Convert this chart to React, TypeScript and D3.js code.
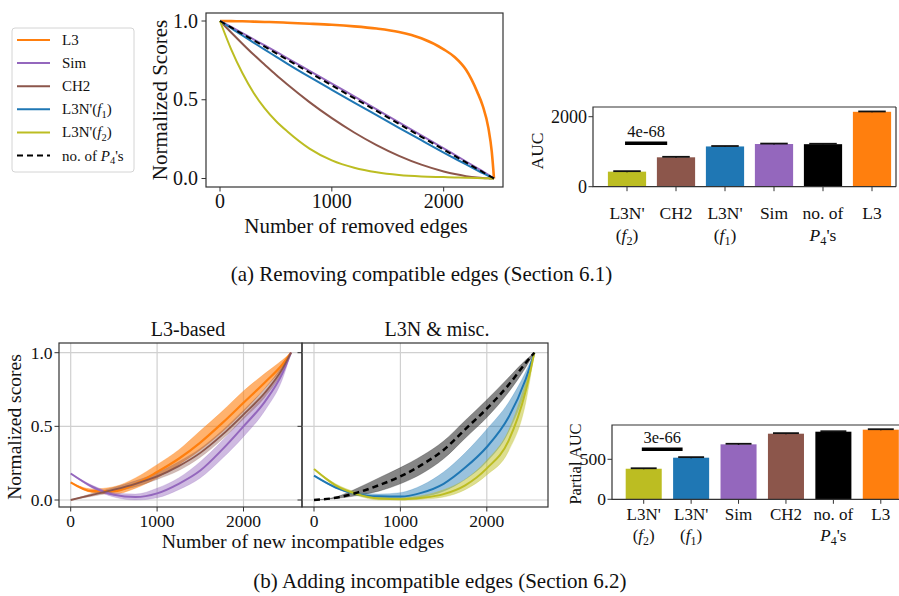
import { useEffect, useRef } from "react";
import * as d3 from "d3";

// ---------- (a) removing compatible edges ----------
const removedEdges = [0, 100, 200, 300, 400, 500, 600, 800, 1000, 1200, 1400, 1600, 1800, 2000, 2100, 2200, 2300, 2350, 2400, 2430, 2450];
const removeL3 = [1.0, 0.999, 0.998, 0.996, 0.994, 0.992, 0.989, 0.983, 0.976, 0.966, 0.952, 0.93, 0.89, 0.82, 0.77, 0.69, 0.55, 0.46, 0.32, 0.17, 0.0];
const removeSim = [1.0, 0.962, 0.923, 0.884, 0.845, 0.805, 0.765, 0.684, 0.603, 0.521, 0.439, 0.357, 0.274, 0.192, 0.15, 0.108, 0.066, 0.045, 0.023, 0.009, 0.0];
const removeCH2 = [1.0, 0.927, 0.856, 0.787, 0.722, 0.658, 0.598, 0.485, 0.383, 0.292, 0.212, 0.144, 0.088, 0.045, 0.028, 0.015, 0.006, 0.003, 0.001, 0.0, 0.0];
const removeL3Nf1 = [1.0, 0.954, 0.908, 0.863, 0.818, 0.774, 0.73, 0.645, 0.563, 0.482, 0.402, 0.322, 0.243, 0.165, 0.127, 0.089, 0.052, 0.034, 0.017, 0.007, 0.0];
const removeL3Nf2 = [1.0, 0.82, 0.67, 0.545, 0.445, 0.365, 0.3, 0.19, 0.115, 0.068, 0.039, 0.022, 0.013, 0.009, 0.007, 0.005, 0.003, 0.002, 0.001, 0.0, 0.0];
const removeP4 = [1.0, 0.959, 0.918, 0.878, 0.837, 0.796, 0.755, 0.673, 0.592, 0.51, 0.429, 0.347, 0.265, 0.184, 0.143, 0.102, 0.061, 0.041, 0.02, 0.008, 0.0];

const aucCategories = ["L3N'(f2)", "CH2", "L3N'(f1)", "Sim", "P4", "L3"];
const aucValues = [430, 840, 1150, 1220, 1215, 2140];
const aucErrors = [14, 14, 12, 12, 12, 10];

// ---------- (b) adding incompatible edges ----------
const newEdges = [0, 250, 500, 750, 1000, 1250, 1500, 1750, 2000, 2250, 2450, 2550];
const addL3 = [0.12, 0.06, 0.06, 0.11, 0.19, 0.28, 0.39, 0.52, 0.66, 0.8, 0.92, 1.0];
const addL3Hi = [0.12, 0.075, 0.09, 0.15, 0.24, 0.34, 0.47, 0.6, 0.74, 0.86, 0.95, 1.0];
const addL3Lo = [0.12, 0.05, 0.04, 0.08, 0.15, 0.24, 0.34, 0.46, 0.6, 0.76, 0.9, 1.0];
const addSim = [0.18, 0.09, 0.035, 0.02, 0.045, 0.11, 0.2, 0.34, 0.5, 0.67, 0.86, 1.0];
const addSimHi = [0.18, 0.1, 0.05, 0.04, 0.08, 0.15, 0.26, 0.4, 0.56, 0.72, 0.89, 1.0];
const addSimLo = [0.18, 0.08, 0.02, 0.0, 0.015, 0.07, 0.15, 0.28, 0.43, 0.61, 0.82, 1.0];
const addCH2 = [0.0, 0.035, 0.07, 0.11, 0.16, 0.23, 0.32, 0.44, 0.58, 0.73, 0.89, 1.0];
const addCH2Hi = [0.0, 0.045, 0.085, 0.13, 0.185, 0.26, 0.35, 0.47, 0.61, 0.76, 0.91, 1.0];
const addCH2Lo = [0.0, 0.025, 0.055, 0.09, 0.14, 0.2, 0.29, 0.41, 0.55, 0.7, 0.87, 1.0];
const addP4 = [0.0, 0.015, 0.05, 0.1, 0.16, 0.24, 0.34, 0.48, 0.62, 0.78, 0.93, 1.0];
const addP4Hi = [0.0, 0.02, 0.08, 0.15, 0.22, 0.3, 0.4, 0.54, 0.68, 0.83, 0.95, 1.0];
const addP4Lo = [0.0, 0.01, 0.03, 0.06, 0.11, 0.18, 0.28, 0.42, 0.56, 0.73, 0.9, 1.0];
const addL3Nf1 = [0.165, 0.085, 0.04, 0.025, 0.023, 0.05, 0.11, 0.22, 0.36, 0.56, 0.82, 1.0];
const addL3Nf1Hi = [0.165, 0.09, 0.05, 0.04, 0.05, 0.1, 0.19, 0.32, 0.48, 0.66, 0.87, 1.0];
const addL3Nf1Lo = [0.165, 0.08, 0.03, 0.01, 0.005, 0.02, 0.06, 0.14, 0.26, 0.46, 0.76, 1.0];
const addL3Nf2 = [0.21, 0.1, 0.04, 0.01, 0.005, 0.015, 0.04, 0.1, 0.215, 0.4, 0.74, 1.0];
const addL3Nf2Hi = [0.21, 0.11, 0.05, 0.02, 0.015, 0.03, 0.07, 0.14, 0.27, 0.47, 0.8, 1.0];
const addL3Nf2Lo = [0.21, 0.09, 0.03, 0.0, 0.0, 0.005, 0.02, 0.07, 0.17, 0.33, 0.66, 1.0];

const partialCategories = ["L3N'(f2)", "L3N'(f1)", "Sim", "CH2", "P4", "L3"];
const partialValues = [382, 520, 687, 820, 845, 870];
const partialErrors = [6, 7, 7, 7, 6, 6];

const COLOR: Record<string, string> = {
  L3: "#ff7f0e",
  Sim: "#9467bd",
  CH2: "#8c564b",
  "L3N'(f1)": "#1f77b4",
  "L3N'(f2)": "#bcbd22",
  P4: "#000000",
};

type Part = { t: string; i?: boolean; s?: boolean };
const legendParts: Record<string, Part[]> = {
  L3: [{ t: "L3" }],
  Sim: [{ t: "Sim" }],
  CH2: [{ t: "CH2" }],
  "L3N'(f1)": [{ t: "L3N'(" }, { t: "f", i: true }, { t: "1", s: true }, { t: ")" }],
  "L3N'(f2)": [{ t: "L3N'(" }, { t: "f", i: true }, { t: "2", s: true }, { t: ")" }],
  P4: [{ t: "no. of " }, { t: "P", i: true }, { t: "4", s: true }, { t: "'s" }],
};
const tickParts: Record<string, Part[][]> = {
  L3: [[{ t: "L3" }]],
  Sim: [[{ t: "Sim" }]],
  CH2: [[{ t: "CH2" }]],
  "L3N'(f1)": [[{ t: "L3N'" }], [{ t: "(" }, { t: "f", i: true }, { t: "1", s: true }, { t: ")" }]],
  "L3N'(f2)": [[{ t: "L3N'" }], [{ t: "(" }, { t: "f", i: true }, { t: "2", s: true }, { t: ")" }]],
  P4: [[{ t: "no. of" }], [{ t: "P", i: true }, { t: "4", s: true }, { t: "'s" }]],
};

const FONT = "'Liberation Serif', 'Times New Roman', serif";
const SPINE = "#333";

function rich(text: any, parts: Part[], size: number) {
  let down = false;
  parts.forEach((p) => {
    const ts = text.append("tspan").text(p.t);
    if (p.i) ts.attr("font-style", "italic");
    if (p.s) {
      ts.attr("font-size", size * 0.7).attr("dy", size * 0.25);
      down = true;
    } else if (down) {
      ts.attr("dy", -size * 0.25);
      down = false;
    }
  });
}

function drawRemoval(svg: any) {
  const x = d3.scaleLinear().domain([0, 2450]).range([220, 494]);
  const y = d3.scaleLinear().domain([0, 1]).range([178.5, 21]);
  const g = svg.append("g");
  const idx = d3.range(removedEdges.length);

  const series = [
    { key: "L3", v: removeL3, w: 2.6 },
    { key: "Sim", v: removeSim, w: 2 },
    { key: "CH2", v: removeCH2, w: 2 },
    { key: "L3N'(f1)", v: removeL3Nf1, w: 2 },
    { key: "L3N'(f2)", v: removeL3Nf2, w: 2 },
    { key: "P4", v: removeP4, w: 2, dash: "6,4" },
  ];
  series.forEach((s) => {
    const line = d3
      .line<number>()
      .x((i) => x(removedEdges[i]))
      .y((i) => y(s.v[i]))
      .curve(d3.curveMonotoneX);
    g.append("path")
      .attr("d", line(idx))
      .attr("fill", "none")
      .attr("stroke", COLOR[s.key])
      .attr("stroke-width", s.w)
      .attr("stroke-dasharray", s.dash ?? null);
  });

  g.append("rect").attr("x", 206).attr("y", 13).attr("width", 297).attr("height", 174)
    .attr("fill", "none").attr("stroke", SPINE).attr("stroke-width", 1.2);

  [0, 1000, 2000].forEach((t) => {
    g.append("line").attr("x1", x(t)).attr("x2", x(t)).attr("y1", 187).attr("y2", 191.5).attr("stroke", SPINE);
    g.append("text").attr("x", x(t)).attr("y", 208).attr("text-anchor", "middle")
      .attr("font-size", 20).text(t);
  });
  [0, 0.5, 1].forEach((t) => {
    g.append("line").attr("x1", 201.5).attr("x2", 206).attr("y1", y(t)).attr("y2", y(t)).attr("stroke", SPINE);
    g.append("text").attr("x", 198).attr("y", y(t) + 6.5).attr("text-anchor", "end")
      .attr("font-size", 20).text(t.toFixed(1));
  });
  g.append("text").attr("x", 356).attr("y", 233).attr("text-anchor", "middle")
    .attr("font-size", 21).text("Number of removed edges");
  g.append("text").attr("transform", "translate(167,100) rotate(-90)").attr("text-anchor", "middle")
    .attr("font-size", 21).text("Normalized Scores");

  // legend
  const lg = svg.append("g");
  lg.append("rect").attr("x", 12).attr("y", 28).attr("width", 122).attr("height", 144).attr("rx", 3)
    .attr("fill", "#fff").attr("stroke", "#d4d4d4");
  series.forEach((s, i) => {
    const cy = 40 + i * 23.1;
    lg.append("line").attr("x1", 17).attr("x2", 50).attr("y1", cy).attr("y2", cy)
      .attr("stroke", COLOR[s.key]).attr("stroke-width", 2).attr("stroke-dasharray", s.dash ?? null);
    const t = lg.append("text").attr("x", 62).attr("y", cy + 5).attr("font-size", 15);
    rich(t, legendParts[s.key], 15);
  });
}

function drawBars(
  svg: any,
  cats: string[],
  vals: number[],
  errs: number[],
  o: {
    left: number; right: number; top: number; zeroY: number; tickVal: number; tickY: number;
    rangeL: number; rangeR: number; pIn: number; pOut: number; fs: number; label: string;
    labelX: number; labelY: number; labelFs: number; line1: number; line2: number; sig: string; sigY: number;
    ticks: number[];
  }
) {
  const g = svg.append("g");
  const x = d3.scaleBand<string>().domain(cats).range([o.rangeL, o.rangeR]).paddingInner(o.pIn).paddingOuter(o.pOut);
  const y = d3.scaleLinear().domain([0, o.tickVal]).range([o.zeroY, o.tickY]);
  const bw = x.bandwidth();

  g.selectAll("rect.bar").data(cats).join("rect").attr("class", "bar")
    .attr("x", (c: string) => x(c) ?? 0)
    .attr("y", (_: string, i: number) => y(vals[i]))
    .attr("width", bw)
    .attr("height", (_: string, i: number) => o.zeroY - y(vals[i]))
    .attr("fill", (c: string) => COLOR[c]);

  cats.forEach((c, i) => {
    const cx = (x(c) ?? 0) + bw / 2;
    g.append("line").attr("x1", cx).attr("x2", cx).attr("y1", y(vals[i] - errs[i])).attr("y2", y(vals[i] + errs[i]))
      .attr("stroke", "#111").attr("stroke-width", 1.5);
    g.append("line").attr("x1", cx - bw * 0.36).attr("x2", cx + bw * 0.36)
      .attr("y1", y(vals[i] + errs[i])).attr("y2", y(vals[i] + errs[i]))
      .attr("stroke", "#111").attr("stroke-width", 1.8);
    tickParts[c].forEach((line, li) => {
      const t = g.append("text").attr("x", cx).attr("y", li === 0 ? o.line1 : o.line2)
        .attr("text-anchor", "middle").attr("font-size", o.fs);
      rich(t, line, o.fs);
    });
  });

  g.append("path")
    .attr("d", `M${o.right},${o.top}H${o.left}V${o.zeroY}H${o.right}`)
    .attr("fill", "none").attr("stroke", SPINE).attr("stroke-width", 1.2);
  if (o.right < 899) {
    g.append("line").attr("x1", o.right).attr("x2", o.right).attr("y1", o.top).attr("y2", o.zeroY)
      .attr("stroke", SPINE).attr("stroke-width", 1.2);
  }

  o.ticks.forEach((t) => {
    g.append("line").attr("x1", o.left - 4.5).attr("x2", o.left).attr("y1", y(t)).attr("y2", y(t)).attr("stroke", SPINE);
    g.append("text").attr("x", o.left - 6).attr("y", y(t) + 6).attr("text-anchor", "end")
      .attr("font-size", o.fs + 0.5).text(t);
  });
  cats.forEach((c) => {
    const cx = (x(c) ?? 0) + bw / 2;
    g.append("line").attr("x1", cx).attr("x2", cx).attr("y1", o.zeroY).attr("y2", o.zeroY + 4.5).attr("stroke", SPINE);
  });

  // significance bracket between the two leftmost bars
  const c0 = (x(cats[0]) ?? 0) + bw / 2;
  const step = x.step();
  g.append("line").attr("x1", c0 - 0.04 * step).attr("x2", c0 + 0.82 * step)
    .attr("y1", o.sigY).attr("y2", o.sigY).attr("stroke", "#000").attr("stroke-width", 3.5);
  g.append("text").attr("x", c0 + 0.39 * step).attr("y", o.sigY - 6.5).attr("text-anchor", "middle")
    .attr("font-size", 16.5).text(o.sig);

  g.append("text").attr("transform", `translate(${o.labelX},${o.labelY}) rotate(-90)`)
    .attr("text-anchor", "middle").attr("font-size", o.labelFs).text(o.label);
}

function drawAddPanel(
  svg: any,
  frameL: number,
  frameR: number,
  x0: number,
  title: string,
  titleX: number,
  bands: { key: string; lo: number[]; hi: number[]; op: number; fill: string }[],
  lines: { key: string; v: number[]; dash?: string; w: number }[],
  yLabels: boolean
) {
  const g = svg.append("g");
  const x = d3.scaleLinear().domain([0, 2550]).range([x0, x0 + 2550 * 0.0864]);
  const y = d3.scaleLinear().domain([0, 1]).range([500, 352.7]);
  const top = 343, bottom = 507;
  const idx = d3.range(newEdges.length);

  [0, 1000, 2000].forEach((t) => {
    g.append("line").attr("x1", x(t)).attr("x2", x(t)).attr("y1", top).attr("y2", bottom)
      .attr("stroke", "#d0d0d0").attr("stroke-width", 1.2);
  });
  [0, 0.5, 1].forEach((t) => {
    g.append("line").attr("x1", frameL).attr("x2", frameR).attr("y1", y(t)).attr("y2", y(t))
      .attr("stroke", "#d0d0d0").attr("stroke-width", 1.2);
  });

  bands.forEach((b) => {
    const area = d3.area<number>()
      .x((i) => x(newEdges[i]))
      .y0((i) => y(b.lo[i]))
      .y1((i) => y(b.hi[i]))
      .curve(d3.curveMonotoneX);
    g.append("path").attr("d", area(idx)).attr("fill", b.fill).attr("fill-opacity", b.op)
      .attr("stroke", b.fill).attr("stroke-opacity", b.op * 0.6).attr("stroke-width", 0.8);
  });
  lines.forEach((s) => {
    const line = d3.line<number>()
      .x((i) => x(newEdges[i]))
      .y((i) => y(s.v[i]))
      .curve(d3.curveMonotoneX);
    g.append("path").attr("d", line(idx)).attr("fill", "none").attr("stroke", COLOR[s.key])
      .attr("stroke-width", s.w).attr("stroke-dasharray", s.dash ?? null);
  });

  g.append("rect").attr("x", frameL).attr("y", top).attr("width", frameR - frameL).attr("height", bottom - top)
    .attr("fill", "none").attr("stroke", SPINE).attr("stroke-width", 1.2);

  [0, 1000, 2000].forEach((t) => {
    g.append("line").attr("x1", x(t)).attr("x2", x(t)).attr("y1", bottom).attr("y2", bottom + 4.5).attr("stroke", SPINE);
    g.append("text").attr("x", x(t)).attr("y", 527).attr("text-anchor", "middle").attr("font-size", 17.5).text(t);
  });
  [0, 0.5, 1].forEach((t) => {
    g.append("line").attr("x1", frameL - 4.5).attr("x2", frameL).attr("y1", y(t)).attr("y2", y(t)).attr("stroke", SPINE);
    if (yLabels) {
      g.append("text").attr("x", frameL - 6.5).attr("y", y(t) + 6).attr("text-anchor", "end")
        .attr("font-size", 17.5).text(t.toFixed(1));
    }
  });
  g.append("text").attr("x", titleX).attr("y", 336).attr("text-anchor", "middle").attr("font-size", 20).text(title);
}

export default function App() {
  const ref = useRef<SVGSVGElement | null>(null);

  useEffect(() => {
    if (!ref.current) return;
    const svg = d3.select(ref.current);
    svg.selectAll("*").remove();
    svg.attr("font-family", FONT).attr("fill", "#111");

    drawRemoval(svg);

    drawBars(svg, aucCategories, aucValues, aucErrors, {
      left: 593, right: 896, top: 107, zeroY: 186.7, tickVal: 2000, tickY: 116.7,
      rangeL: 602.5, rangeR: 896.5, pIn: 0.22, pOut: 0.11, fs: 17.5, label: "AUC",
      labelX: 543, labelY: 151, labelFs: 17.5, line1: 219, line2: 241, sig: "4e-68", sigY: 143.3, ticks: [0, 2000],
    });

    svg.append("text").attr("x", 421.5).attr("y", 281).attr("text-anchor", "middle").attr("font-size", 21)
      .text("(a) Removing compatible edges (Section 6.1)");

    drawAddPanel(
      svg, 59, 302, 70.7, "L3-based", 188,
      [
        { key: "L3", lo: addL3Lo, hi: addL3Hi, op: 0.6, fill: COLOR.L3 },
        { key: "Sim", lo: addSimLo, hi: addSimHi, op: 0.45, fill: COLOR.Sim },
        { key: "CH2", lo: addCH2Lo, hi: addCH2Hi, op: 0.4, fill: COLOR.CH2 },
      ],
      [
        { key: "L3", v: addL3, w: 2.2 },
        { key: "Sim", v: addSim, w: 2 },
        { key: "CH2", v: addCH2, w: 1.8 },
      ],
      true
    );
    drawAddPanel(
      svg, 302, 548, 314, "L3N & misc.", 437,
      [
        { key: "P4", lo: addP4Lo, hi: addP4Hi, op: 0.55, fill: "#222" },
        { key: "L3N'(f1)", lo: addL3Nf1Lo, hi: addL3Nf1Hi, op: 0.45, fill: COLOR["L3N'(f1)"] },
        { key: "L3N'(f2)", lo: addL3Nf2Lo, hi: addL3Nf2Hi, op: 0.5, fill: COLOR["L3N'(f2)"] },
      ],
      [
        { key: "L3N'(f1)", v: addL3Nf1, w: 2 },
        { key: "L3N'(f2)", v: addL3Nf2, w: 2 },
        { key: "P4", v: addP4, w: 2.5, dash: "6,4" },
      ],
      false
    );
    svg.append("text").attr("x", 20.5).attr("y", 427).attr("transform", "rotate(-90,20.5,427)")
      .attr("text-anchor", "middle").attr("font-size", 19.5).text("Normalized scores");
    svg.append("text").attr("x", 303).attr("y", 548).attr("text-anchor", "middle").attr("font-size", 19.8)
      .text("Number of new incompatible edges");

    drawBars(svg, partialCategories, partialValues, partialErrors, {
      left: 612, right: 905, top: 425, zeroY: 499.3, tickVal: 500, tickY: 459.3,
      rangeL: 620, rangeR: 904.5, pIn: 0.24, pOut: 0.12, fs: 17, label: "Partial AUC",
      labelX: 581, labelY: 464, labelFs: 16.5, line1: 520, line2: 541, sig: "3e-66", sigY: 449.3, ticks: [0, 500],
    });

    svg.append("text").attr("x", 440).attr("y", 588).attr("text-anchor", "middle").attr("font-size", 21)
      .text("(b) Adding incompatible edges (Section 6.2)");
  }, []);

  return (
    <svg
      ref={ref}
      width={899}
      height={596}
      style={{ position: "absolute", left: 0, top: 0, background: "#fff", fontFamily: FONT }}
    />
  );
}
